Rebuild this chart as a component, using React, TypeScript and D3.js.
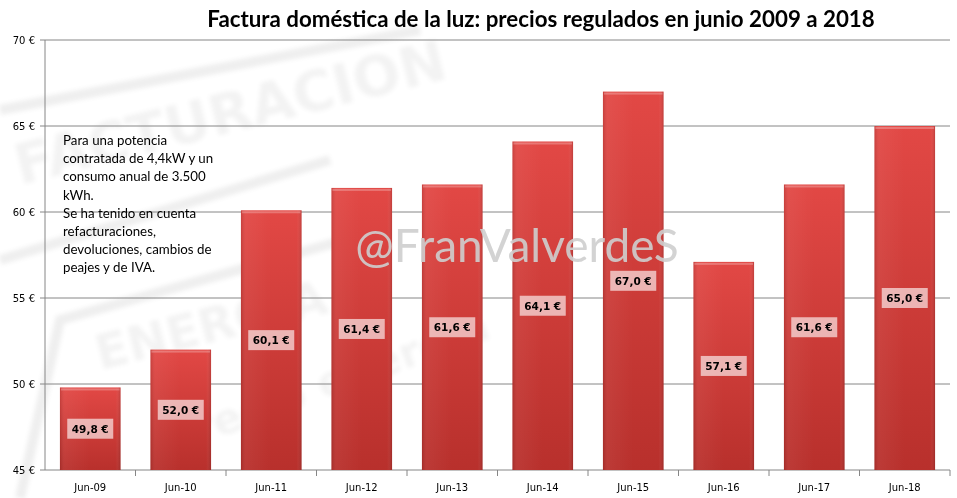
import React from 'react';
import * as d3 from 'd3';

const categories = ['Jun-09', 'Jun-10', 'Jun-11', 'Jun-12', 'Jun-13', 'Jun-14', 'Jun-15', 'Jun-16', 'Jun-17', 'Jun-18'];
const prices = [49.8, 52.0, 60.1, 61.4, 61.6, 64.1, 67.0, 57.1, 61.6, 65.0];
const yTicks = [45, 50, 55, 60, 65, 70];
const noteLines = [
  'Para una potencia',
  'contratada de 4,4kW  y un',
  'consumo anual de 3.500',
  'kWh.',
  'Se ha tenido en cuenta',
  'refacturaciones,',
  'devoluciones, cambios de',
  'peajes y  de IVA.',
];
const title = 'Factura doméstica de la luz: precios regulados en junio 2009 a 2018';

const W = 957;
const H = 498;
const margin = { top: 40, right: 7, bottom: 28, left: 45 };

const App: React.FC = () => {
  const x = d3
    .scaleBand()
    .domain(categories)
    .range([margin.left, W - margin.right])
    .paddingInner(0.33)
    .paddingOuter(0.165);

  const y = d3.scaleLinear().domain([45, 70]).range([H - margin.bottom, margin.top]);
  const fmt = (v: number) => v.toFixed(1).replace('.', ',') + ' €';
  const step = x.step();
  const base = y(45);

  return (
    <svg width={W} height={H} style={{ position: 'absolute', left: 0, top: 0, background: '#fff' }}>
      <defs>
        <linearGradient id="barFill" x1="0" y1="0" x2="0" y2="1">
          <stop offset="0" stopColor="#e24845" />
          <stop offset="1" stopColor="#b8302c" />
        </linearGradient>
        <linearGradient id="barShine" x1="0" y1="0" x2="1" y2="0">
          <stop offset="0" stopColor="#000" stopOpacity="0.12" />
          <stop offset="0.08" stopColor="#fff" stopOpacity="0.05" />
          <stop offset="0.5" stopColor="#fff" stopOpacity="0.0" />
          <stop offset="0.92" stopColor="#fff" stopOpacity="0.0" />
          <stop offset="1" stopColor="#000" stopOpacity="0.15" />
        </linearGradient>
        <filter id="blur"><feGaussianBlur stdDeviation="2" /></filter>
      </defs>

      {/* faint background watermark */}
      <g opacity={0.07} fill="#555" fontFamily="'DejaVu Sans', sans-serif" fontWeight="bold" filter="url(#blur)">
        <text x={20} y={185} fontSize={56} transform="rotate(-14 20 185)">FACTURACION</text>
        <text x={100} y={370} fontSize={48} transform="rotate(-14 100 370)">ENERGIA</text>
        <text x={170} y={455} fontSize={42} transform="rotate(-20 170 455)">Precio energía</text>
      </g>
      <g opacity={0.1} stroke="#666" strokeWidth={10} fill="none" filter="url(#blur)">
        <path d="M0 110 L 420 30" />
        <path d="M0 260 L 330 160" />
        <path d="M20 498 L 60 320 L 380 230" />
      </g>

      {/* gridlines */}
      {yTicks.slice(1).map((t) => (
        <line key={t} x1={margin.left} x2={W - margin.right} y1={y(t)} y2={y(t)} stroke="#868686" strokeWidth={1} />
      ))}

      {/* axes */}
      <line x1={margin.left} x2={margin.left} y1={margin.top} y2={base} stroke="#868686" />
      <line x1={margin.left} x2={W - margin.right} y1={base} y2={base} stroke="#868686" />
      {yTicks.map((t) => (
        <g key={t}>
          <line x1={margin.left - 5} x2={margin.left} y1={y(t)} y2={y(t)} stroke="#868686" />
          <text x={margin.left - 10} y={y(t) + 3.5} textAnchor="end" fontSize={10} fontFamily="'DejaVu Sans', sans-serif" fill="#000">
            {t} €
          </text>
        </g>
      ))}
      {categories.map((c, i) => (
        <line key={c} x1={margin.left + i * step + step} x2={margin.left + i * step + step} y1={base} y2={base + 6} stroke="#868686" />
      ))}
      {categories.map((c) => (
        <text key={c} x={(x(c) ?? 0) + x.bandwidth() / 2} y={base + 21} textAnchor="middle" fontSize={10} fontFamily="'DejaVu Sans', sans-serif" fill="#000">
          {c}
        </text>
      ))}

      {/* bars */}
      {categories.map((c, i) => {
        const bx = x(c) ?? 0;
        const by = y(prices[i]);
        return (
          <g key={c}>
            <rect x={bx} y={by} width={x.bandwidth()} height={base - by} fill="url(#barFill)" />
            <rect x={bx} y={by} width={x.bandwidth()} height={base - by} fill="url(#barShine)" />
            <rect x={bx + 1} y={by + 1} width={x.bandwidth() - 2} height={2} fill="#fff" opacity={0.25} />
          </g>
        );
      })}

      {/* handle watermark */}
      <text x={517} y={262} textAnchor="middle" fontSize={46} fontFamily="Lato, 'Open Sans', sans-serif" fill="#cfcfcf" opacity={0.9}>
        @FranValverdeS
      </text>

      {/* value labels */}
      {categories.map((c, i) => {
        const cx = (x(c) ?? 0) + x.bandwidth() / 2;
        const cy = (y(prices[i]) + base) / 2;
        return (
          <g key={c}>
            <rect x={cx - 23} y={cy - 10} width={46} height={20} fill="#fff" opacity={0.62} />
            <text x={cx} y={cy + 4} textAnchor="middle" fontSize={10.5} fontWeight="bold" fontFamily="'DejaVu Sans', sans-serif" fill="#000">
              {fmt(prices[i])}
            </text>
          </g>
        );
      })}

      {/* note */}
      <g fontFamily="Lato, 'Open Sans', sans-serif" fontSize={13.3} fill="#000">
        {noteLines.map((l, i) => (
          <text key={i} x={63} y={145 + i * 18.2}>{l}</text>
        ))}
      </g>

      {/* title */}
      <text x={541} y={27} textAnchor="middle" fontSize={22.3} fontWeight="bold" fontFamily="Lato, 'Open Sans', sans-serif" fill="#000">
        {title}
      </text>
    </svg>
  );
};

export default App;
